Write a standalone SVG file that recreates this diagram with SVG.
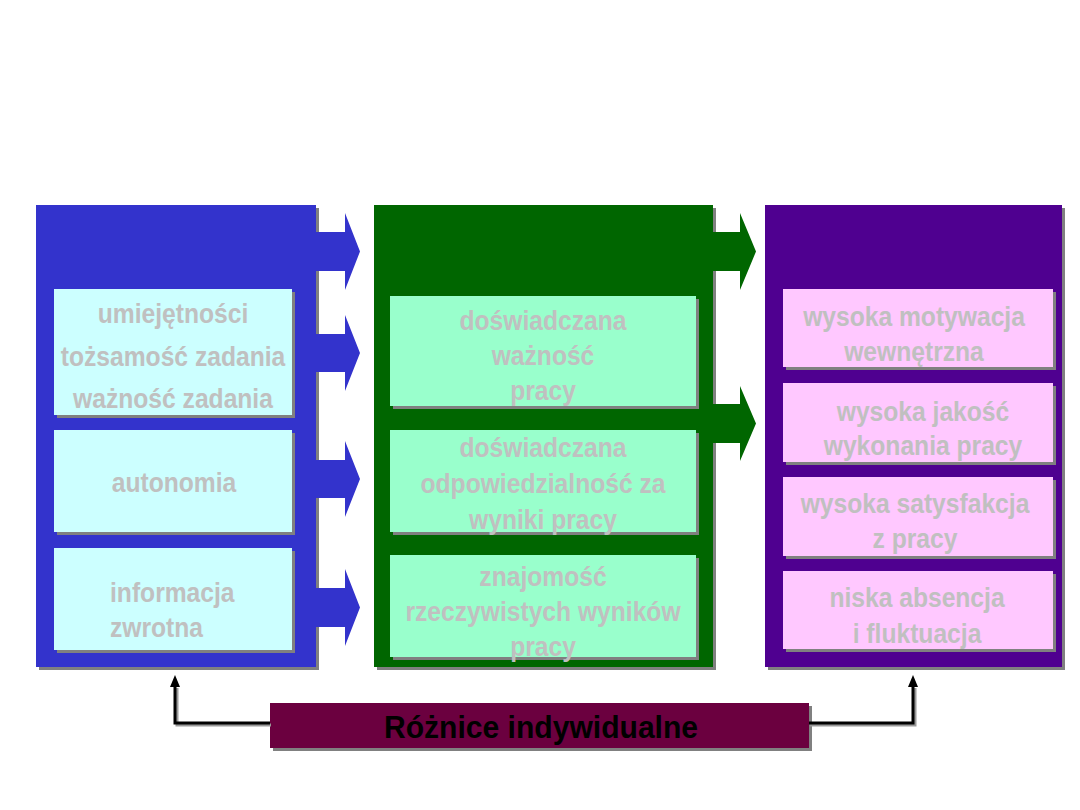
<svg xmlns="http://www.w3.org/2000/svg" width="1080" height="810" viewBox="0 0 1080 810">
<defs>
<style>
.sh{fill:#808080}
.lbl{font-family:"Liberation Sans",Arial,sans-serif;font-weight:bold;font-size:28px;fill:#C0C0C0;text-anchor:middle}
.lbls{font-family:"Liberation Sans",Arial,sans-serif;font-weight:bold;font-size:28px;fill:#C0C0C0;text-anchor:start}
.blue{fill:#3333CC}
.green{fill:#006600}
.purple{fill:#4F0090}
.cyan{fill:#CCFFFF}
.mint{fill:#99FFCC}
.pink{fill:#FFC8FF}
.fb{fill:none;stroke:#000;stroke-width:3}
.fbs{fill:none;stroke:#999;stroke-width:3}
</style>
<marker id="ah" viewBox="0 0 12 10" refX="2" refY="5" markerWidth="12" markerHeight="10" markerUnits="userSpaceOnUse" orient="auto">
<path d="M0,0 L12,5 L0,10 Z" fill="#000"/>
</marker>
</defs>
<rect width="1080" height="810" fill="#FFFFFF"/>

<g id="panel-blue">
<rect class="sh" x="39" y="208" width="280" height="462"/>
<rect class="blue" x="36" y="205" width="280" height="462"/>
</g>
<g id="panel-green">
<rect class="sh" x="377" y="208" width="339" height="462"/>
<rect class="green" x="374" y="205" width="339" height="462"/>
</g>
<g id="panel-purple">
<rect class="sh" x="768" y="208" width="297" height="462"/>
<rect class="purple" x="765" y="205" width="297" height="462"/>
</g>

<g id="node-umiejetnosci">
<rect class="sh" x="57" y="292" width="238" height="126"/>
<rect class="cyan" x="54" y="289" width="238" height="126"/>
<g transform="translate(173,0) scale(0.88,1)">
<text class="lbl" x="0" y="323">umiejętności</text>
<text class="lbl" x="0" y="366">tożsamość zadania</text>
<text class="lbl" x="0" y="408">ważność zadania</text>
</g>
</g>
<g id="node-autonomia">
<rect class="sh" x="57" y="433" width="238" height="102"/>
<rect class="cyan" x="54" y="430" width="238" height="102"/>
<g transform="translate(174,0) scale(0.88,1)">
<text class="lbl" x="0" y="492">autonomia</text>
</g>
</g>
<g id="node-informacja">
<rect class="sh" x="57" y="551" width="238" height="102"/>
<rect class="cyan" x="54" y="548" width="238" height="102"/>
<g transform="translate(110,0) scale(0.88,1)">
<text class="lbls" x="0" y="602">informacja</text>
<text class="lbls" x="0" y="637">zwrotna</text>
</g>
</g>

<g id="node-wazno">
<rect class="sh" x="393" y="299" width="306" height="110"/>
<rect class="mint" x="390" y="296" width="306" height="110"/>
<g transform="translate(543,0) scale(0.88,1)">
<text class="lbl" x="0" y="330">doświadczana</text>
<text class="lbl" x="0" y="365">ważność</text>
<text class="lbl" x="0" y="400">pracy</text>
</g>
</g>
<g id="node-odpowiedzialnosc">
<rect class="sh" x="393" y="433" width="306" height="102"/>
<rect class="mint" x="390" y="430" width="306" height="102"/>
<g transform="translate(543,0) scale(0.88,1)">
<text class="lbl" x="0" y="457">doświadczana</text>
<text class="lbl" x="0" y="493">odpowiedzialność za</text>
<text class="lbl" x="0" y="529">wyniki pracy</text>
</g>
</g>
<g id="node-znajomosc">
<rect class="sh" x="393" y="558" width="306" height="102"/>
<rect class="mint" x="390" y="555" width="306" height="102"/>
<g transform="translate(543,0) scale(0.88,1)">
<text class="lbl" x="0" y="586">znajomość</text>
<text class="lbl" x="0" y="621">rzeczywistych wyników</text>
<text class="lbl" x="0" y="656">pracy</text>
</g>
</g>

<g id="node-motywacja">
<rect class="sh" x="786" y="292" width="270" height="78"/>
<rect class="pink" x="783" y="289" width="270" height="78"/>
<g transform="translate(914,0) scale(0.88,1)">
<text class="lbl" x="0" y="326">wysoka motywacja</text>
<text class="lbl" x="0" y="361">wewnętrzna</text>
</g>
</g>
<g id="node-jakosc">
<rect class="sh" x="786" y="386" width="270" height="79"/>
<rect class="pink" x="783" y="383" width="270" height="79"/>
<g transform="translate(923,0) scale(0.88,1)">
<text class="lbl" x="0" y="421">wysoka jakość</text>
<text class="lbl" x="0" y="455">wykonania pracy</text>
</g>
</g>
<g id="node-satysfakcja">
<rect class="sh" x="786" y="480" width="270" height="79"/>
<rect class="pink" x="783" y="477" width="270" height="79"/>
<g transform="translate(915,0) scale(0.88,1)">
<text class="lbl" x="0" y="513">wysoka satysfakcja</text>
<text class="lbl" x="0" y="548">z pracy</text>
</g>
</g>
<g id="node-absencja">
<rect class="sh" x="786" y="574" width="270" height="78"/>
<rect class="pink" x="783" y="571" width="270" height="78"/>
<g transform="translate(917,0) scale(0.88,1)">
<text class="lbl" x="0" y="607">niska absencja</text>
<text class="lbl" x="0" y="643">i fluktuacja</text>
</g>
</g>

<g id="node-roznice">
<rect class="sh" x="273" y="706" width="539" height="45"/>
<rect x="270" y="703" width="539" height="45" fill="#6B003F"/>
<g transform="translate(541,0) scale(0.94,1)">
<text x="0" y="738" font-family="Liberation Sans, Arial, sans-serif" font-weight="bold" font-size="32" fill="#000" text-anchor="middle">Różnice indywidualne</text>
</g>
</g>

<g id="connectors">
<polygon class="blue" points="315,232 345,232 345,213 360,251.5 345,290 345,271 315,271"/>
<polygon class="blue" points="315,334 345,334 345,315 360,353 345,391 345,372 315,372"/>
<polygon class="blue" points="315,460 345,460 345,441 360,479 345,517 345,498 315,498"/>
<polygon class="blue" points="315,588 345,588 345,569 360,607.5 345,646 345,627 315,627"/>
<polygon class="green" points="712,232 740,232 740,213 756,251.5 740,290 740,271 712,271"/>
<polygon class="green" points="712,404 740,404 740,386 756,423.5 740,461 740,443 712,443"/>
<polyline class="fbs" points="271,725 177,725 177,688"/>
<polyline class="fbs" points="810,725 915,725 915,688"/>
<polyline class="fb" points="270,723 175,723 175,685" marker-end="url(#ah)"/>
<polyline class="fb" points="809,723 913,723 913,685" marker-end="url(#ah)"/>
</g>
</svg>
